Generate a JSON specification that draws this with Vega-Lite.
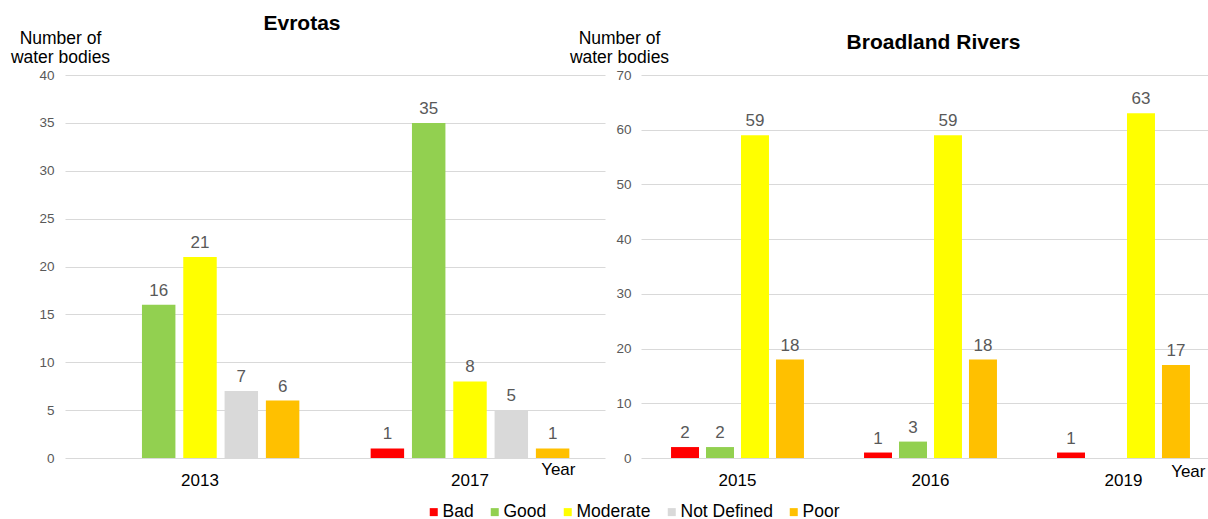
{
  "$schema": "https://vega.github.io/schema/vega-lite/v6.json",
  "autosize": {"type": "pad"},
  "padding": {"left": 10, "top": 13, "right": 0, "bottom": 0},
  "background": "white",
  "bounds": "flush",
  "spacing": 36,
  "resolve": {"scale": {"xOffset": "independent", "x": "independent", "y": "independent", "color": "shared"}},
  "config": {
    "font": "Liberation Sans",
    "view": {"stroke": null},
    "axisY": {"domain": false, "ticks": false, "grid": true, "gridColor": "#d9d9d9", "gridWidth": 1, "labelFontSize": 13.5, "labelColor": "#595959", "labelPadding": 10, "titleAngle": 0, "titleAlign": "center", "titleBaseline": "alphabetic", "titleFontSize": 17.5, "titleFontWeight": "normal", "titleColor": "#000000", "titleLineHeight": 19, "titleY": -32},
    "axisX": {"domain": false, "ticks": false, "grid": false, "labelAngle": 0, "labelFontSize": 17, "labelColor": "#000000", "labelPadding": 14, "titleFontSize": 17, "titleFontWeight": "normal", "titleColor": "#000000", "titleAlign": "right", "titleBaseline": "alphabetic", "titleY": 16},
    "title": {"fontSize": 21, "fontWeight": "bold", "color": "#000000", "anchor": "middle", "frame": "group", "baseline": "alphabetic"},
    "legend": {"orient": "none", "direction": "horizontal", "columns": 5, "symbolType": "square", "symbolSize": 64, "symbolStrokeWidth": 0, "labelFontSize": 17.5, "labelColor": "#000000", "labelOffset": 0, "columnPadding": 12, "padding": 0, "titleFontSize": 0}
  },
  "datasets": {
    "evrotas": [
      {"year": "2013", "status": "Good", "value": 16},
      {"year": "2013", "status": "Moderate", "value": 21},
      {"year": "2013", "status": "Not Defined", "value": 7},
      {"year": "2013", "status": "Poor", "value": 6},
      {"year": "2017", "status": "Bad", "value": 1},
      {"year": "2017", "status": "Good", "value": 35},
      {"year": "2017", "status": "Moderate", "value": 8},
      {"year": "2017", "status": "Not Defined", "value": 5},
      {"year": "2017", "status": "Poor", "value": 1}
    ],
    "broadland": [
      {"year": "2015", "status": "Bad", "value": 2},
      {"year": "2015", "status": "Good", "value": 2},
      {"year": "2015", "status": "Moderate", "value": 59},
      {"year": "2015", "status": "Poor", "value": 18},
      {"year": "2016", "status": "Bad", "value": 1},
      {"year": "2016", "status": "Good", "value": 3},
      {"year": "2016", "status": "Moderate", "value": 59},
      {"year": "2016", "status": "Poor", "value": 18},
      {"year": "2019", "status": "Bad", "value": 1},
      {"year": "2019", "status": "Moderate", "value": 63},
      {"year": "2019", "status": "Poor", "value": 17}
    ]
  },
  "hconcat": [
    {
      "width": 540,
      "height": 383,
      "data": {"name": "evrotas"},
      "title": {"text": "Evrotas", "dx": -33, "offset": -5},
      "encoding": {
        "x": {"field": "year", "type": "nominal", "scale": {"paddingInner": 0.235, "paddingOuter": 0.1175}, "axis": {"title": "Year", "titleX": 510}},
        "xOffset": {"field": "status", "type": "nominal", "scale": {"domain": ["Bad", "Good", "Moderate", "Not Defined", "Poor"], "paddingInner": 0.19, "paddingOuter": 0.095}},
        "y": {"field": "value", "type": "quantitative", "scale": {"domain": [0, 40]}, "axis": {"values": [0, 5, 10, 15, 20, 25, 30, 35, 40], "title": ["Number of", "water bodies"], "titleX": -5, "labelPadding": 11}}
      },
      "layer": [
        {
          "mark": {"type": "bar"},
          "encoding": {
            "color": {"field": "status", "type": "nominal", "scale": {"domain": ["Bad", "Good", "Moderate", "Not Defined", "Poor"], "range": ["#ff0000", "#92d050", "#ffff00", "#d9d9d9", "#ffc000"]}, "legend": {"title": null, "legendX": 360, "legendY": 428}}
          }
        },
        {
          "mark": {"type": "text", "dy": -9, "baseline": "alphabetic", "fontSize": 17, "color": "#595959"},
          "encoding": {"text": {"field": "value", "type": "quantitative"}}
        }
      ]
    },
    {
      "width": 569,
      "height": 383,
      "data": {"name": "broadland"},
      "title": {"text": "Broadland Rivers", "dx": 8, "offset": -24},
      "encoding": {
        "x": {"field": "year", "type": "nominal", "scale": {"paddingInner": 0.275, "paddingOuter": 0.1116, "align": 0.616}, "axis": {"title": "Year", "titleX": 564, "titleY": 18}},
        "xOffset": {"field": "status", "type": "nominal", "scale": {"domain": ["Bad", "Good", "Moderate", "Poor"], "paddingInner": 0.2, "paddingOuter": 0.1}},
        "y": {"field": "value", "type": "quantitative", "scale": {"domain": [0, 70]}, "axis": {"values": [0, 10, 20, 30, 40, 50, 60, 70], "title": ["Number of", "water bodies"], "titleX": -22, "labelPadding": 10}}
      },
      "layer": [
        {
          "mark": {"type": "bar"},
          "encoding": {
            "color": {"field": "status", "type": "nominal", "scale": {"domain": ["Bad", "Good", "Moderate", "Not Defined", "Poor"], "range": ["#ff0000", "#92d050", "#ffff00", "#d9d9d9", "#ffc000"]}}
          }
        },
        {
          "mark": {"type": "text", "dy": -9, "baseline": "alphabetic", "fontSize": 17, "color": "#595959"},
          "encoding": {"text": {"field": "value", "type": "quantitative"}}
        }
      ]
    }
  ]
}
